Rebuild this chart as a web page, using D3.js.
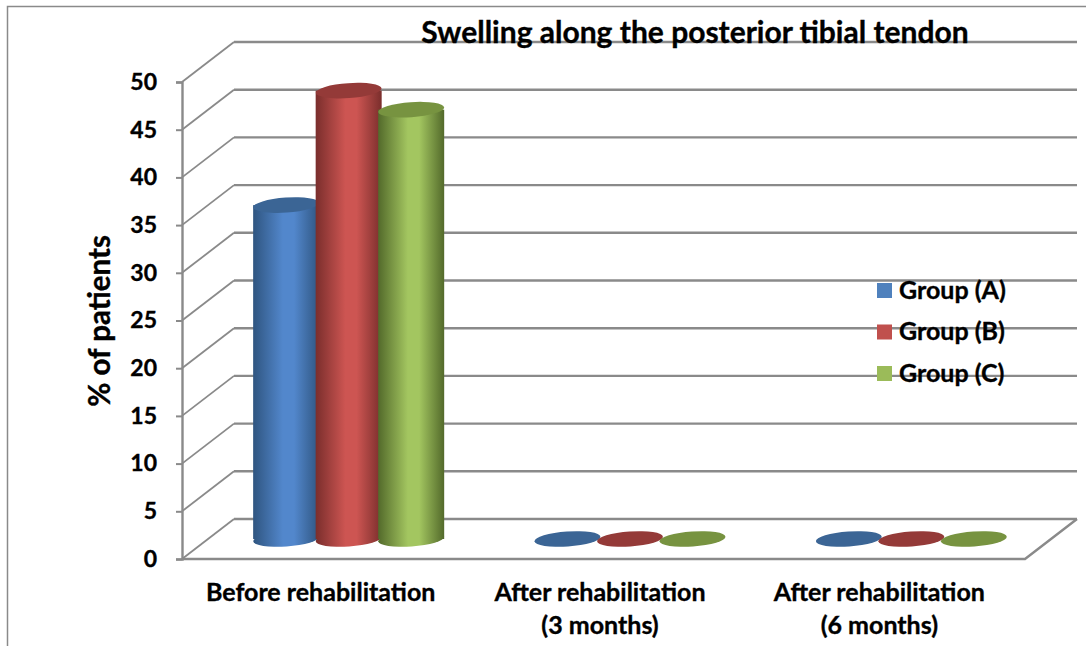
<!DOCTYPE html>
<html>
<head>
<meta charset="utf-8">
<script src="https://cdn.jsdelivr.net/npm/d3@7"></script>
<style>
  html, body { margin: 0; padding: 0; background: #fff; }
  svg { display: block; }
  text { font-family: Lato, "Open Sans", sans-serif; font-weight: 700; fill: #000; stroke: #000; stroke-width: 0.35px; }
</style>
</head>
<body>
<script>
// ================= Data ==============================
const categories = ["Before rehabilitation", "After rehabilitation (3 months)", "After rehabilitation (6 months)"];
const categoryLines = [["Before rehabilitation"], ["After rehabilitation", "(3 months)"], ["After rehabilitation", "(6 months)"]];
const groups = ["Group (A)", "Group (B)", "Group (C)"];
const groupA = [35, 0, 0];
const groupB = [47, 0, 0];
const groupC = [45, 0, 0];
const yTicks = [0, 5, 10, 15, 20, 25, 30, 35, 40, 45, 50];
const seriesValues = [groupA, groupB, groupC];

// colours per group: edge, centre, cap
const edgeColors = ["#2f5580", "#7a2e2c", "#536a2b"];
const midColors = ["#5287cc", "#cd5552", "#a3c660"];
const capColors = ["#3b6595", "#943a38", "#779340"];
const legendColors = ["#4f81bd", "#c0504d", "#9bbb59"];
const gridColor = "#8a8a8a";

// ================== LAYOUT ===========================
const width = 1086;
const height = 646;
const depth = {x: 52, y: -40};

const svg = d3.select("body")
              .append("svg")
              .attr("width", width)
              .attr("height", height);

// outer frame (cropped at right and bottom)
svg.append("path")
   .attr("d", `M${width},6.5H7.5V${height}`)
   .attr("fill", "none")
   .attr("stroke", gridColor)
   .attr("stroke-width", 1.5);

// ===================== SCALES ========================
const yScale = d3.scaleLinear().domain([0, 50]).range([559, 82]);

// bars stand half way between the front and the back of the floor
const barBase = 539;
const yBar = d3.scaleLinear().domain([0, 50]).range([barBase, barBase - 477]);

const xFront = d3.scaleBand().domain(categories).range([182, 1025]);
const xBars = d3.scaleBand().domain(categories).range([208, 1052]).paddingInner(1 / 3).paddingOuter(1 / 6);
const xGroup = d3.scaleBand().domain(groups).range([0, xBars.bandwidth()]);
const xLabels = d3.scaleBand().domain(categories).range([181, 1019]);

// ===================== GRID ==========================
const grid = svg.append("g").attr("class", "grid")
                .attr("fill", "none")
                .attr("stroke", gridColor);

grid.selectAll(".back")
    .data(yTicks)
    .join("line")
    .attr("class", "back")
    .attr("x1", xFront.range()[0] + depth.x)
    .attr("x2", xFront.range()[1] + depth.x)
    .attr("y1", d => yScale(d) + depth.y)
    .attr("y2", d => yScale(d) + depth.y)
    .attr("stroke-width", 2.4);

grid.selectAll(".side")
    .data(yTicks)
    .join("line")
    .attr("class", "side")
    .attr("x1", xFront.range()[0])
    .attr("x2", xFront.range()[0] + depth.x)
    .attr("y1", d => yScale(d))
    .attr("y2", d => yScale(d) + depth.y)
    .attr("stroke-width", 1.8);

// front and right edge of the floor
grid.append("path")
    .attr("d", `M${xFront.range()[0]},${yScale(0)}H${xFront.range()[1]}l${depth.x},${depth.y}`)
    .attr("stroke-width", 2.4);

// ===================== AXIS: Y =======================
const yAxis = d3.axisLeft(yScale).tickValues(yTicks).tickSize(6).tickPadding(19);

const yAxisG = svg.append("g")
   .attr("class", "axis y")
   .attr("transform", `translate(${xFront.range()[0]}, 0)`)
   .call(yAxis);

yAxisG.select(".domain")
      .attr("stroke", gridColor)
      .attr("stroke-width", 2.4);
yAxisG.selectAll("line").attr("stroke", gridColor).attr("stroke-width", 2);
yAxisG.selectAll("text")
      .style("font-family", "Lato, sans-serif")
      .style("font-weight", 700)
      .attr("font-size", 23);

svg.append("text")
   .attr("transform", "translate(110, 321) rotate(-90)")
   .attr("text-anchor", "middle")
   .attr("font-size", 29.5)
   .text("% of patients");

// ===================== AXIS: X =======================
const xLabelG = svg.append("g").attr("class", "axis x");

xLabelG.selectAll("text")
   .data(categories)
   .join("text")
   .attr("text-anchor", "middle")
   .attr("font-size", 25)
   .each(function(d, i) {
       d3.select(this).selectAll("tspan")
         .data(categoryLines[i])
         .join("tspan")
         .attr("x", xLabels(d) + xLabels.bandwidth() / 2)
         .attr("y", (l, j) => 601 + j * 33)
         .text(l => l);
   });

// ===================== BARS ==========================
const defs = svg.append("defs");
groups.forEach((g, i) => {
    const grad = defs.append("linearGradient").attr("id", "cyl" + i);
    grad.append("stop").attr("offset", "0%").attr("stop-color", edgeColors[i]);
    grad.append("stop").attr("offset", "45%").attr("stop-color", midColors[i]);
    grad.append("stop").attr("offset", "62%").attr("stop-color", midColors[i]);
    grad.append("stop").attr("offset", "100%").attr("stop-color", edgeColors[i]);
});

const rx = 33;
const ry = 7.5;
const tilt = -4;

groups.forEach((g, i) => {
    const bars = svg.append("g").attr("class", "series-" + i);
    const cells = bars.selectAll("g")
        .data(categories.map((c, k) => ({c: c, v: seriesValues[i][k]})))
        .join("g")
        .attr("transform", d => `translate(${xBars(d.c) + xGroup(g) + xGroup.bandwidth() / 2}, 0)`);

    const standing = cells.filter(d => d.v > 0);
    standing.append("ellipse")
        .attr("rx", rx)
        .attr("ry", ry)
        .attr("transform", `translate(0, ${yBar(0)}) rotate(${tilt})`)
        .attr("fill", `url(#cyl${i})`);
    standing.append("rect")
        .attr("x", -rx)
        .attr("width", rx * 2)
        .attr("y", d => yBar(d.v))
        .attr("height", d => yBar(0) - yBar(d.v))
        .attr("fill", `url(#cyl${i})`);

    cells.append("ellipse")
        .attr("rx", rx)
        .attr("ry", ry)
        .attr("transform", d => `translate(0, ${yBar(d.v)}) rotate(${tilt})`)
        .attr("fill", capColors[i]);
});

// ==================== LEGEND =========================
const legendY = d3.scalePoint().domain(groups).range([290.5, 373.5]);
const legend = svg.append("g").attr("class", "legend");

legend.selectAll("rect")
      .data(groups)
      .join("rect")
      .attr("x", 877)
      .attr("y", d => legendY(d) - 7.5)
      .attr("width", 15)
      .attr("height", 15)
      .attr("fill", (d, i) => legendColors[i]);

legend.selectAll("text")
      .data(groups)
      .join("text")
      .attr("x", 899)
      .attr("y", d => legendY(d) + 8)
      .attr("font-size", 25)
      .text(d => d);

// ===================== TITLE =========================
svg.append("text")
   .attr("x", 695)
   .attr("y", 43)
   .attr("text-anchor", "middle")
   .attr("font-size", 30)
   .text("Swelling along the posterior tibial tendon");
</script>
</body>
</html>
